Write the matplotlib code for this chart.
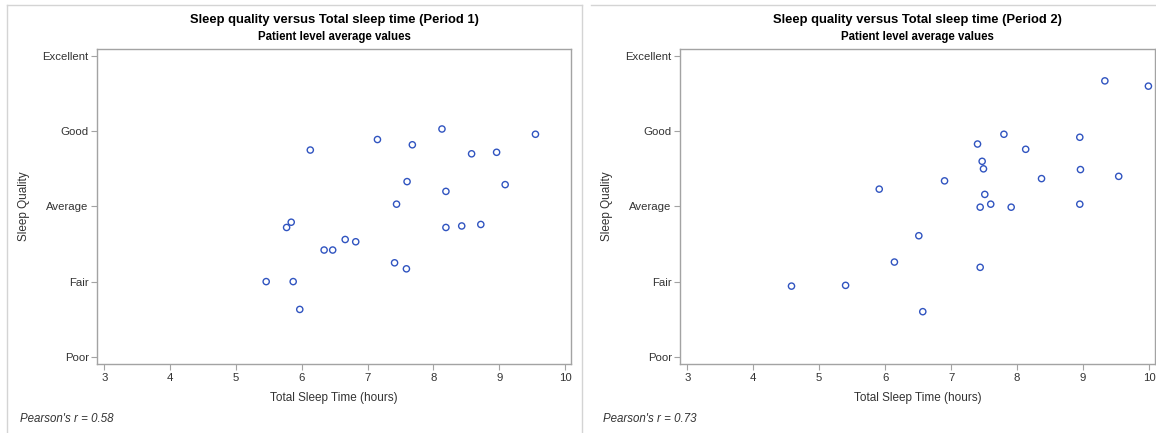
import matplotlib
matplotlib.use("Agg")
import matplotlib.pyplot as plt
from matplotlib.lines import Line2D

plt.rcParams['font.family'] = ['Liberation Sans', 'DejaVu Sans']

# quality scale: 1=Poor .. 5=Excellent
quality_labels = ['Poor', 'Fair', 'Average', 'Good', 'Excellent']
hour_ticks = [3, 4, 5, 6, 7, 8, 9, 10]

# period 1, patient averages
tst_p1 = [6.13, 7.15, 7.68, 8.13, 9.55, 8.58, 8.96, 7.60, 9.09, 8.19, 7.44, 5.84, 5.77,
          8.19, 8.43, 8.72, 6.66, 6.82, 6.34, 6.47, 7.41, 7.59, 5.46, 5.87, 5.97]
sq_p1 = [3.75, 3.89, 3.82, 4.03, 3.96, 3.70, 3.72, 3.33, 3.29, 3.20, 3.03, 2.79, 2.72,
         2.72, 2.74, 2.76, 2.56, 2.53, 2.42, 2.42, 2.25, 2.17, 2.00, 2.00, 1.63]

# period 2, patient averages
tst_p2 = [9.33, 9.99, 7.80, 8.95, 7.40, 8.13, 7.47, 7.49, 8.96, 9.54, 8.37, 6.90,
          5.91, 7.51, 7.44, 7.60, 7.91, 8.95, 6.51, 6.14, 7.44, 4.58, 5.40, 6.57]
sq_p2 = [4.67, 4.60, 3.96, 3.92, 3.83, 3.76, 3.60, 3.50, 3.49, 3.40, 3.37, 3.34,
         3.23, 3.16, 2.99, 3.03, 2.99, 3.03, 2.61, 2.26, 2.19, 1.94, 1.95, 1.60]

periods = ['Period 1', 'Period 2']
pearson_r = [0.58, 0.73]

W, H = 1156, 433
fig = plt.figure(figsize=(W / 100, H / 100), dpi=100)

def px(x0, y0, x1, y1):
    # pixel box -> figure fraction rect
    return [x0 / W, 1 - y1 / H, (x1 - x0) / W, (y1 - y0) / H]

frame_col = '#a3a3a3'
text_col = '#333333'
marker_col = '#3054c0'

boxes = [px(97, 49.3, 571, 364.3), px(680, 49.3, 1155, 364.3)]
data = [(tst_p1, sq_p1), (tst_p2, sq_p2)]
ylabel_x = [24, 607]
note_x = [20, 603]

for i, (rect, (xs, ys)) in enumerate(zip(boxes, data)):
    ax = fig.add_axes(rect)
    ax.scatter(xs, ys, s=20, facecolors='none', edgecolors=marker_col, linewidths=1.0, zorder=3)
    ax.set_xlim(2.89, 10.09)
    ax.set_ylim(0.9, 5.09)
    ax.set_xticks(hour_ticks)
    ax.set_yticks(range(1, 6))
    ax.set_yticklabels(quality_labels)
    for s in ax.spines.values():
        s.set_color(frame_col)
        s.set_linewidth(1.0)
    ax.tick_params(direction='out', length=4, width=0.8, color=frame_col,
                   labelcolor=text_col, labelsize=8.2, pad=2)
    ax.set_xlabel('Total Sleep Time (hours)', fontsize=8.5, color=text_col, labelpad=7)

    cx = (rect[0] + rect[2] / 2)
    fig.text(cx, 1 - 20 / H, f'Sleep quality versus Total sleep time ({periods[i]})',
             ha='center', va='center', fontsize=9.4, fontweight='bold', color='black')
    fig.text(cx, 1 - 37 / H, 'Patient level average values',
             ha='center', va='center', fontsize=8.3, fontweight='bold', color='black')
    fig.text(ylabel_x[i] / W, 1 - 206 / H, 'Sleep Quality', rotation=90,
             ha='center', va='center', fontsize=8.5, color=text_col)
    fig.text(note_x[i] / W, 1 - 419 / H, f"Pearson's r = {pearson_r[i]:.2f}",
             ha='left', va='center', fontsize=8.3, style='italic', color=text_col)

# light panel borders
border = '#d4d4d4'
def pline(xa, ya, xb, yb):
    fig.add_artist(Line2D([xa / W, xb / W], [1 - ya / H, 1 - yb / H],
                          color=border, linewidth=1.0, transform=fig.transFigure))

pline(7, 4.5, 582, 4.5)
pline(7, 4.5, 7, H)
pline(582, 4.5, 582, H)
pline(591, 4.5, W, 4.5)

fig.savefig('out.png', dpi=100)
